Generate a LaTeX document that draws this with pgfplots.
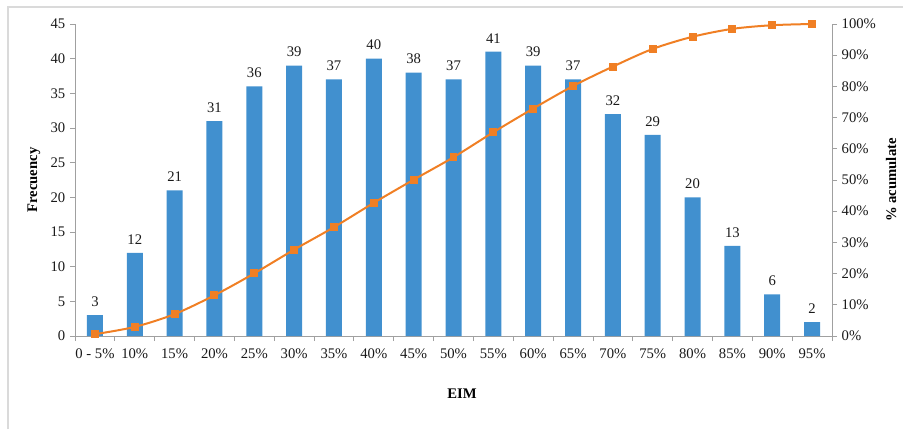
\documentclass[border=0pt]{standalone}
\usepackage{pgfplots}
\pgfplotsset{compat=1.18}
\usepackage{fontspec}
\setmainfont{Liberation Serif}

\definecolor{barblue}{HTML}{4190CF}
\definecolor{cumorange}{HTML}{F07F24}
\definecolor{axisgray}{HTML}{A0A0A0}
\definecolor{framegray}{HTML}{DADADA}

\begin{document}
\begin{tikzpicture}[x=1pt,y=1pt]
\useasboundingbox (0,0) rectangle (677.25,321.75);
\draw[framegray, line width=0.9pt] (6,0) -- (6,316.5) -- (677.25,316.5);

\pgfplotsset{
  base/.style={
    at={(56.25pt,69.75pt)}, anchor=south west,
    scale only axis, width=567.75pt, height=234pt,
    xmin=-0.5, xmax=18.5,
    tick align=outside,
    major tick length=3.75pt, minor tick length=3.75pt,
    every tick/.style={axisgray, line width=0.6pt},
    axis line style={axisgray, line width=0.6pt},
    tick label style={font=\fontsize{11}{12}\selectfont, text=black!90},
    /pgf/number format/assume math mode=true,
  }
}

% frequency per EIM class
\begin{axis}[base,
  axis x line*=bottom, axis y line*=left,
  ymin=0, ymax=45, ytick={0,5,...,45},
  xtick={0,...,18},
  xticklabels={0 - 5\%,10\%,15\%,20\%,25\%,30\%,35\%,40\%,45\%,50\%,55\%,60\%,65\%,70\%,75\%,80\%,85\%,90\%,95\%},
  minor xtick={-0.5,0.5,...,18.5},
  major x tick style={draw=none},
  xticklabel style={yshift=-2pt},
  nodes near coords,
  every node near coord/.append style={font=\fontsize{11}{12}\selectfont, text=black!90, yshift=3pt},
]
\addplot[ybar, bar width=12pt, fill=barblue, draw=none] coordinates {
  (0,3) (1,12) (2,21) (3,31) (4,36) (5,39) (6,37) (7,40) (8,38) (9,37)
  (10,41) (11,39) (12,37) (13,32) (14,29) (15,20) (16,13) (17,6) (18,2)
};
\end{axis}

% cumulative percentage
\begin{axis}[base,
  axis x line=none, axis y line*=right,
  ymin=0, ymax=100, ytick={0,10,...,100},
  yticklabel={\pgfmathprintnumber{\tick}\%},
  clip=false,
]
\addplot[cumorange, line width=1.5pt, smooth, mark=square*, mark size=2.6pt,
  mark options={solid, fill=cumorange, draw=cumorange, line width=0pt}] coordinates {
  (0,0.58) (1,2.92) (2,7.02) (3,13.06) (4,20.08) (5,27.68) (6,34.89) (7,42.69)
  (8,50.10) (9,57.31) (10,65.30) (11,72.90) (12,80.12) (13,86.35) (14,92.01)
  (15,95.91) (16,98.44) (17,99.61) (18,100.00)
};
\end{axis}

\node[font=\bfseries\fontsize{11}{12}\selectfont] at (346.5,26.25) {EIM};
\node[font=\bfseries\fontsize{11}{12}\selectfont, rotate=90] at (25.5,186.75) {Frecuency};
\node[font=\bfseries\fontsize{11}{12}\selectfont, rotate=90] at (668.25,186.75) {\% acumulate};
\end{tikzpicture}
\end{document}
